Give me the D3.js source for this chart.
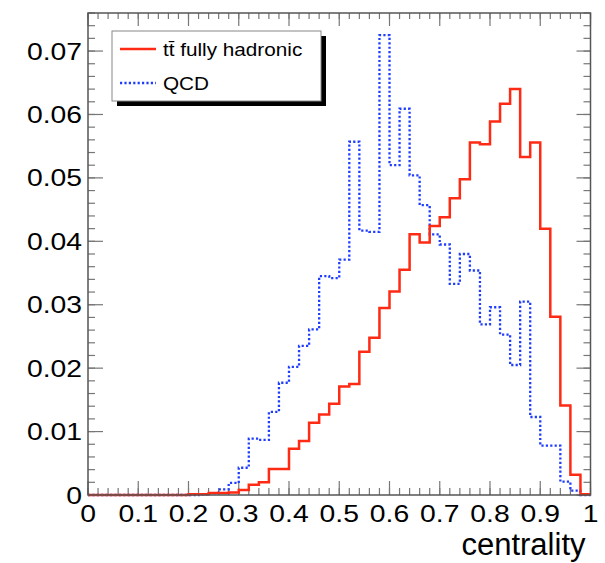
<!DOCTYPE html>
<html>
<head>
<meta charset="utf-8">
<script src="https://cdn.jsdelivr.net/npm/d3@7"></script>
<style>
  body { margin: 0; background: #fff; }
  text { font-family: "Liberation Sans", Arial, sans-serif; fill: #000; }
</style>
</head>
<body>
<div id="my_dataviz"></div>
<script>
// histogram bins: 50 bins of width 0.02 on [0, 1]
const binEdges = d3.range(0, 51).map(i => +(i * 0.02).toFixed(2));

const ttbarValues = [
    0, 0, 0, 0, 0, 0, 0, 0, 0, 0,
    0.0001, 0.0001, 0.0003, 0.0003, 0.0004, 0.0008, 0.0016, 0.0020, 0.0041, 0.0041,
    0.0073, 0.0085, 0.0114, 0.0127, 0.0144, 0.0171, 0.0175, 0.0226, 0.0248, 0.0295,
    0.0321, 0.0355, 0.0411, 0.0398, 0.0424, 0.0438, 0.0468, 0.0498, 0.0556, 0.0553,
    0.0589, 0.0617, 0.0640, 0.0533, 0.0556, 0.0420, 0.0281, 0.0141, 0.0032, 0.0001
];

const qcdValues = [
    0, 0, 0, 0, 0, 0, 0, 0, 0, 0,
    0, 0.0001, 0.0003, 0.0009, 0.0019, 0.0043, 0.0089, 0.0087, 0.0131, 0.0177,
    0.0202, 0.0235, 0.0261, 0.0345, 0.0342, 0.0371, 0.0557, 0.0417, 0.0415, 0.0725,
    0.0520, 0.0609, 0.0504, 0.0457, 0.0411, 0.0395, 0.0333, 0.0380, 0.0354, 0.0269,
    0.0296, 0.0253, 0.0205, 0.0305, 0.0123, 0.0078, 0.0078, 0.0021, 0.0007, 0
];

const xTickLabels = ["0", "0.1", "0.2", "0.3", "0.4", "0.5", "0.6", "0.7", "0.8", "0.9", "1"];
const yTickLabels = ["0", "0.01", "0.02", "0.03", "0.04", "0.05", "0.06", "0.07"];

const legendLabels = ["t\u0074\u0304 fully hadronic", "QCD"];

const W = 605, H = 563;
const margin = { top: 13, right: 14.5, bottom: 68, left: 88 };
const width = W - margin.left - margin.right;
const height = H - margin.top - margin.bottom;
const stretch = 1.18; // tick labels in the reference are drawn a bit wide

const svg = d3.select("#my_dataviz")
    .append("svg")
    .attr("width", W)
    .attr("height", H);

const g = svg.append("g")
    .attr("transform", `translate(${margin.left},${margin.top})`);

const x = d3.scaleLinear().domain([0, 1]).range([0, width]);
const y = d3.scaleLinear().domain([0, 0.076]).range([height, 0]);

// ticks (ROOT style: inside, on all four sides)
const tickColor = "#777";
const xMajor = d3.range(0, 11).map(i => i / 10);
const xMinor = d3.range(0, 51).map(i => i / 50);
const yMajor = d3.range(0, 8).map(i => i / 100);
const yMinor = d3.range(0, 39).map(i => i * 0.002);

const ticks = g.append("g").attr("stroke", tickColor).attr("stroke-width", 1.2);
xMinor.forEach(v => {
    ticks.append("line").attr("x1", x(v)).attr("x2", x(v)).attr("y1", height).attr("y2", height - 7);
    ticks.append("line").attr("x1", x(v)).attr("x2", x(v)).attr("y1", 0).attr("y2", 6);
});
xMajor.forEach(v => {
    ticks.append("line").attr("x1", x(v)).attr("x2", x(v)).attr("y1", height).attr("y2", height - 14);
    ticks.append("line").attr("x1", x(v)).attr("x2", x(v)).attr("y1", 0).attr("y2", 13);
});
yMinor.forEach(v => {
    ticks.append("line").attr("x1", 0).attr("x2", 7).attr("y1", y(v)).attr("y2", y(v));
    ticks.append("line").attr("x1", width).attr("x2", width - 7).attr("y1", y(v)).attr("y2", y(v));
});
yMajor.forEach(v => {
    ticks.append("line").attr("x1", 0).attr("x2", 15).attr("y1", y(v)).attr("y2", y(v));
    ticks.append("line").attr("x1", width).attr("x2", width - 14).attr("y1", y(v)).attr("y2", y(v));
});

// histogram outlines
function stepPoints(values) {
    const pts = [];
    values.forEach((v, i) => {
        pts.push([binEdges[i], v]);
        pts.push([binEdges[i + 1], v]);
    });
    return pts;
}
const line = d3.line().x(d => x(d[0])).y(d => y(d[1]));

g.append("path")
    .attr("d", line(stepPoints(qcdValues)))
    .attr("fill", "none")
    .attr("stroke", "#1f3dff")
    .attr("stroke-width", 2.3)
    .attr("stroke-dasharray", "2.2,2.2");

g.append("path")
    .attr("d", line(stepPoints(ttbarValues)))
    .attr("fill", "none")
    .attr("stroke", "#ff2a14")
    .attr("stroke-width", 2.5);

// frame
g.append("rect")
    .attr("width", width).attr("height", height)
    .attr("fill", "none")
    .attr("stroke", "#555")
    .attr("stroke-width", 1.5);

// tick labels
g.selectAll(".xlab")
    .data(xTickLabels)
    .enter()
    .append("text")
    .attr("transform", (d, i) => `translate(${x(xMajor[i])},${height + 27}) scale(${stretch},1)`)
    .attr("text-anchor", "middle")
    .style("font-size", "24px")
    .text(d => d);

g.selectAll(".ylab")
    .data(yTickLabels)
    .enter()
    .append("text")
    .attr("transform", (d, i) => `translate(-6,${y(yMajor[i]) + 8.5}) scale(${stretch},1)`)
    .attr("text-anchor", "end")
    .style("font-size", "24px")
    .text(d => d);

// axis title
g.append("text")
    .attr("x", width - 5)
    .attr("y", height + 60)
    .attr("text-anchor", "end")
    .style("font-size", "31px")
    .text("centrality");

// legend
const lx = 112 - margin.left, ly = 31 - margin.top, lw = 209, lh = 70;
g.append("rect")
    .attr("x", lx + 5).attr("y", ly + 5)
    .attr("width", lw).attr("height", lh)
    .attr("fill", "#000");
g.append("rect")
    .attr("x", lx).attr("y", ly)
    .attr("width", lw).attr("height", lh)
    .attr("fill", "#fff")
    .attr("stroke", "#888")
    .attr("stroke-width", 1);

const legendStyles = [
    { color: "#ff2a14", dash: null, w: 2.5 },
    { color: "#1f3dff", dash: "2.2,2.2", w: 2.3 }
];
legendLabels.forEach((label, i) => {
    const yy = ly + 18 + i * 34;
    g.append("line")
        .attr("x1", lx + 8).attr("x2", lx + 44)
        .attr("y1", yy).attr("y2", yy)
        .attr("stroke", legendStyles[i].color)
        .attr("stroke-width", legendStyles[i].w)
        .attr("stroke-dasharray", legendStyles[i].dash);
    g.append("text")
        .attr("transform", `translate(${lx + 51},${yy + 6.5}) scale(1.12,1)`)
        .style("font-size", "18.5px")
        .text(label);
});
</script>
</body>
</html>
